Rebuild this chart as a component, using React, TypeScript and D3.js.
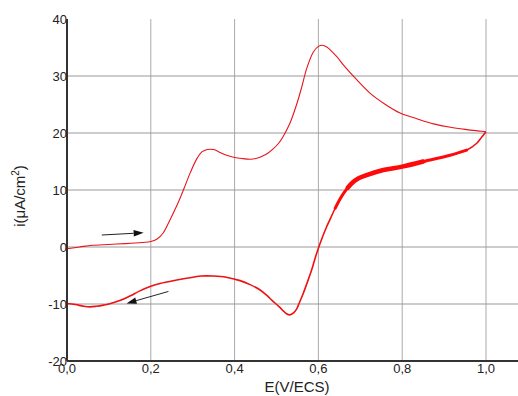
import React from "react";
import * as d3 from "d3";

const forwardE = [0, 0.03, 0.06, 0.1, 0.14, 0.18, 0.2, 0.215, 0.23, 0.246, 0.266, 0.28, 0.294, 0.31, 0.322, 0.335, 0.35, 0.365, 0.381, 0.4, 0.42, 0.437, 0.455, 0.468, 0.48, 0.492, 0.505, 0.516, 0.532, 0.548, 0.56, 0.572, 0.588, 0.6, 0.61, 0.62, 0.628, 0.645, 0.66, 0.692, 0.723, 0.76, 0.795, 0.835, 0.875, 0.915, 0.954, 0.99, 1.0];
const forwardI = [-0.3, 0.0, 0.3, 0.45, 0.6, 0.8, 0.95, 1.4, 2.5, 4.8, 7.9, 10.4, 13.0, 15.5, 16.7, 17.1, 17.1, 16.6, 16.1, 15.7, 15.5, 15.4, 15.6, 16.0, 16.5, 17.2, 18.2, 19.4, 21.7, 25.0, 28.0, 31.3, 34.2, 35.2, 35.4, 35.1, 34.6, 33.3, 31.9, 29.3, 27.0, 25.0, 23.5, 22.5, 21.6, 21.0, 20.6, 20.3, 20.2];

const reverseE = [1.0, 0.99, 0.978, 0.954, 0.914, 0.85, 0.8, 0.755, 0.715, 0.695, 0.683, 0.67, 0.66, 0.65, 0.64, 0.63, 0.62, 0.61, 0.6, 0.592, 0.584, 0.574, 0.564, 0.555, 0.548, 0.54, 0.532, 0.524, 0.516, 0.508, 0.49, 0.477, 0.46, 0.437, 0.413, 0.38, 0.349, 0.32, 0.301, 0.262, 0.222, 0.2, 0.174, 0.15, 0.126, 0.1, 0.087, 0.07, 0.055, 0.04, 0.02, 0];
const reverseI = [20.2, 19.3, 18.2, 17.0, 16.1, 15.0, 14.1, 13.5, 12.6, 12.0, 11.4, 10.4, 9.4, 8.2, 6.8, 5.2, 3.6, 1.8, -0.2, -2.0, -4.0, -6.1, -8.1, -9.7, -10.9, -11.6, -11.9, -11.7, -11.2, -10.6, -9.4, -8.5, -7.5, -6.6, -5.9, -5.3, -5.1, -5.1, -5.3, -5.8, -6.4, -6.9, -7.7, -8.6, -9.4, -10.0, -10.2, -10.4, -10.5, -10.4, -10.1, -9.9];

const xTicks = [0, 0.2, 0.4, 0.6, 0.8, 1.0];
const yTicks = [-20, -10, 0, 10, 20, 30, 40];
const xTickLabels = ["0,0", "0,2", "0,4", "0,6", "0,8", "1,0"];

// annotation arrows [startE, startI, endE, endI]
const arrowForward = [0.083, 2.1, 0.183, 2.5];
const arrowReverse = [0.242, -7.8, 0.142, -9.9];

const W = 518;
const H = 396;
const left = 67;
const right = 518;
const top = 19;
const bottom = 361;
const FONT = "'Liberation Sans', Arial, Helvetica, sans-serif";

export default function App() {
  const x = d3.scaleLinear().domain([0, 1]).range([left, 486]);
  const y = d3.scaleLinear().domain([-20, 40]).range([bottom, top]);

  const fwd = forwardE.map((e, i) => [e, forwardI[i]] as [number, number]);
  const rev = reverseE.map((e, i) => [e, reverseI[i]] as [number, number]);

  const line = d3
    .line<[number, number]>()
    .x((d) => x(d[0]))
    .y((d) => y(d[1]))
    .curve(d3.curveCatmullRom.alpha(0.5));

  const noisy1 = rev.filter((d) => d[0] <= 0.96 && d[0] >= 0.64);
  const noisy2 = rev.filter((d) => d[0] <= 0.85 && d[0] >= 0.67);

  const arrow = (a: number[], key: string) => {
    const x1 = x(a[0]), y1 = y(a[1]), x2 = x(a[2]), y2 = y(a[3]);
    const ang = Math.atan2(y2 - y1, x2 - x1);
    const L = 10, Wd = 3.2;
    const bx = x2 - L * Math.cos(ang), by = y2 - L * Math.sin(ang);
    const p1 = [bx + Wd * Math.sin(ang), by - Wd * Math.cos(ang)];
    const p2 = [bx - Wd * Math.sin(ang), by + Wd * Math.cos(ang)];
    return (
      <g key={key}>
        <line x1={x1} y1={y1} x2={bx} y2={by} stroke="#222" strokeWidth={1} />
        <polygon points={`${x2},${y2} ${p1[0]},${p1[1]} ${p2[0]},${p2[1]}`} fill="#111" />
      </g>
    );
  };

  return (
    <svg width={W} height={H} style={{ position: "absolute", left: 0, top: 0, background: "#fff" }} fontFamily={FONT}>
      <rect x={0} y={0} width={W} height={H} fill="#fff" />
      {/* gridlines */}
      {xTicks.filter((t) => t > 0).map((t) => (
        <line key={"vx" + t} x1={x(t)} x2={x(t)} y1={top} y2={bottom} stroke="#aaa" strokeWidth={1} />
      ))}
      {yTicks.filter((t) => t > -20 && t < 40).map((t) => (
        <line key={"hy" + t} x1={left} x2={right} y1={y(t)} y2={y(t)} stroke="#999" strokeWidth={1} />
      ))}
      {/* curves */}
      <path d={line(fwd) || ""} fill="none" stroke="#e8141a" strokeWidth={1.1} />
      <path d={line(rev) || ""} fill="none" stroke="#ee1111" strokeWidth={1.6} />
      <path d={line(noisy1) || ""} fill="none" stroke="#ff0a0a" strokeWidth={3} strokeLinecap="round" />
      <path d={line(noisy2) || ""} fill="none" stroke="#ff0a0a" strokeWidth={4.5} strokeLinecap="round" />
      {/* arrows */}
      {arrow(arrowForward, "af")}
      {arrow(arrowReverse, "ar")}
      {/* axes */}
      <line x1={left} x2={left} y1={top} y2={bottom} stroke="#333" strokeWidth={2} />
      <line x1={left} x2={right} y1={bottom} y2={bottom} stroke="#333" strokeWidth={2} />
      {/* y tick labels */}
      {yTicks.map((t) => (
        <text key={"yl" + t} x={left} y={y(t)} dy="0.35em" textAnchor="end" fontSize={13} fill="#222">
          {t}
        </text>
      ))}
      {/* x tick labels */}
      {xTicks.map((t, i) => (
        <text key={"xl" + t} x={x(t)} y={bottom + 12} textAnchor="middle" fontSize={13} fill="#222">
          {xTickLabels[i]}
        </text>
      ))}
      <text x={297} y={392} textAnchor="middle" fontSize={15} fill="#222">
        E(V/ECS)
      </text>
      <text transform={`translate(25,196) rotate(-90)`} textAnchor="middle" fontSize={15} fill="#222">
        i(μA/cm<tspan dy="-6" fontSize={10}>2</tspan><tspan dy="6">)</tspan>
      </text>
    </svg>
  );
}
